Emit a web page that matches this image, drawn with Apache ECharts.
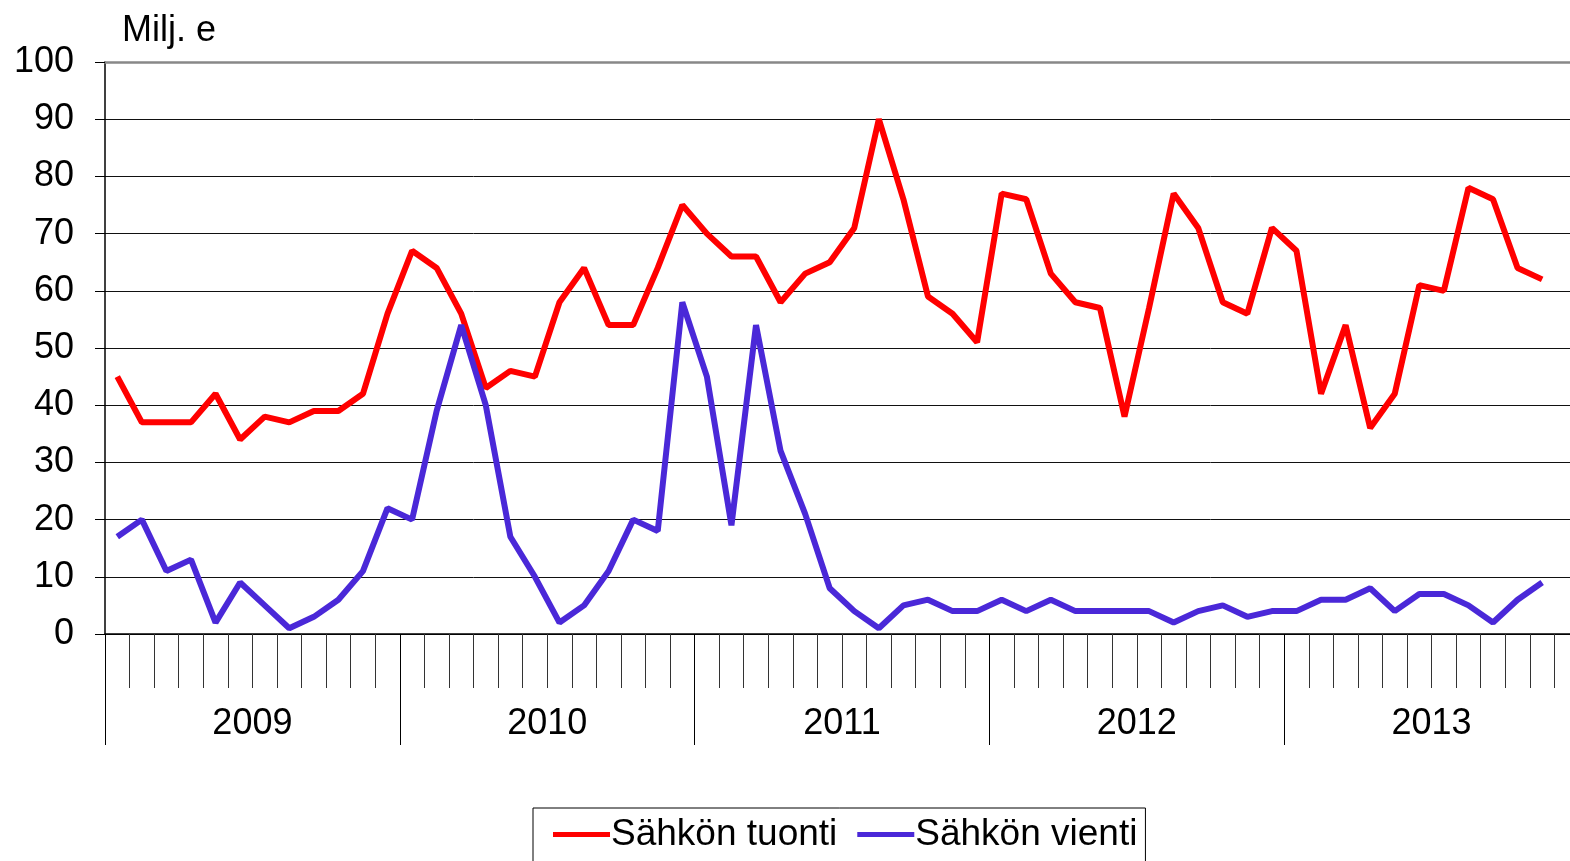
<!DOCTYPE html>
<html>
<head>
<meta charset="utf-8">
<title>Sähkön tuonti ja vienti</title>
<script src="https://cdn.jsdelivr.net/npm/echarts@6/dist/echarts.min.js"></script>
<style>
  html, body { margin: 0; padding: 0; background: #fff; overflow: hidden; }
  /* kaavio on hieman ikkunaa leveämpi: oikea reuna rajautuu pois kuten alkuperäisessä */
  #chart { width: 1585px; height: 861px; }
</style>
</head>
<body>
<div id="chart"></div>
<script>
// vuodet ja kuukaudet
const years = ['2009', '2010', '2011', '2012', '2013'];
const months = ['01', '02', '03', '04', '05', '06', '07', '08', '09', '10', '11', '12'];

// Sähkön tuonti, milj. e (tammikuu 2009 - marraskuu 2013)
const tuonti = [
  45, 37, 37, 37, 42, 34, 38, 37, 39, 39, 42, 56,
  67, 64, 56, 43, 46, 45, 58, 64, 54, 54, 64, 75,
  70, 66, 66, 58, 63, 65, 71, 90, 76, 59, 56, 51,
  77, 76, 63, 58, 57, 38, 57, 77, 71, 58, 56, 71,
  67, 42, 54, 36, 42, 61, 60, 78, 76, 64, 62
];

// Sähkön vienti, milj. e
const vienti = [
  17, 20, 11, 13, 2, 9, 5, 1, 3, 6, 11, 22,
  20, 39, 54, 40, 17, 10, 2, 5, 11, 20, 18, 58,
  45, 19, 54, 32, 21, 8, 4, 1, 5, 6, 4, 4,
  6, 4, 6, 4, 4, 4, 4, 2, 4, 5, 3, 4,
  4, 6, 6, 8, 4, 7, 7, 5, 2, 6, 9
];

const yTicks = [0, 10, 20, 30, 40, 50, 60, 70, 80, 90, 100];

// kuukausikategoriat
const categories = [];
years.forEach(y => months.forEach(m => categories.push(y + '-' + m)));

const FONT = '"Liberation Sans", Arial, sans-serif';

const chart = echarts.init(document.getElementById('chart'));

// ylin apuviiva harmaa, muut mustat
const splitColors = yTicks.map((v, i) => (i === yTicks.length - 1 ? '#888888' : '#111111'));

const option = {
  backgroundColor: '#fff',
  animation: false,
  title: {
    text: 'Milj. e',
    left: 117,
    top: 8,
    textStyle: { fontFamily: FONT, fontSize: 36, fontWeight: 'normal', color: '#000' }
  },
  legend: {
    data: ['Sähkön tuonti', 'Sähkön vienti'],
    left: 533,
    top: 808,
    icon: 'rect',
    itemWidth: 57,
    itemHeight: 5,
    itemGap: 20,
    padding: [8, 8, 40, 20],
    borderColor: '#000',
    borderWidth: 1,
    textStyle: { fontFamily: FONT, fontSize: 37, color: '#000', padding: [0, 0, 0, -4] }
  },
  grid: {
    left: 105,
    top: 62,
    width: 1474,
    height: 572,
    containLabel: false
  },
  xAxis: [
    {
      type: 'category',
      data: categories,
      position: 'bottom',
      boundaryGap: true,
      axisLine: { show: true, lineStyle: { color: '#000', width: 1.5 } },
      axisTick: { show: true, interval: 0, length: 54, lineStyle: { color: '#333', width: 1 } },
      axisLabel: { show: false },
      splitLine: { show: false }
    },
    {
      type: 'category',
      data: years,
      position: 'bottom',
      boundaryGap: true,
      axisLine: { show: false },
      axisTick: { show: true, interval: 0, length: 111, lineStyle: { color: '#000', width: 1 } },
      axisLabel: { show: true, interval: 0, margin: 72, fontFamily: FONT, fontSize: 36, color: '#000' },
      splitLine: { show: false }
    },
    {
      type: 'category',
      data: years,
      position: 'top',
      axisLine: { show: true, lineStyle: { color: '#888', width: 2.5 } },
      axisTick: { show: false },
      axisLabel: { show: false }
    }
  ],
  yAxis: {
    type: 'value',
    min: 0,
    max: 100,
    interval: 10,
    axisLine: { show: true, lineStyle: { color: '#000', width: 1.5 } },
    axisTick: { show: true, length: 10, lineStyle: { color: '#000', width: 1 } },
    axisLabel: { margin: 31, fontFamily: FONT, fontSize: 36, color: '#000' },
    splitLine: { show: true, lineStyle: { color: splitColors, width: 1 } }
  },
  series: [
    {
      name: 'Sähkön tuonti',
      type: 'line',
      xAxisIndex: 0,
      data: tuonti,
      symbol: 'none',
      lineStyle: { color: '#ff0000', width: 6 },
      itemStyle: { color: '#ff0000' }
    },
    {
      name: 'Sähkön vienti',
      type: 'line',
      xAxisIndex: 0,
      data: vienti,
      symbol: 'none',
      lineStyle: { color: '#4a28d8', width: 6 },
      itemStyle: { color: '#4a28d8' }
    }
  ]
};

chart.setOption(option);
</script>
</body>
</html>
